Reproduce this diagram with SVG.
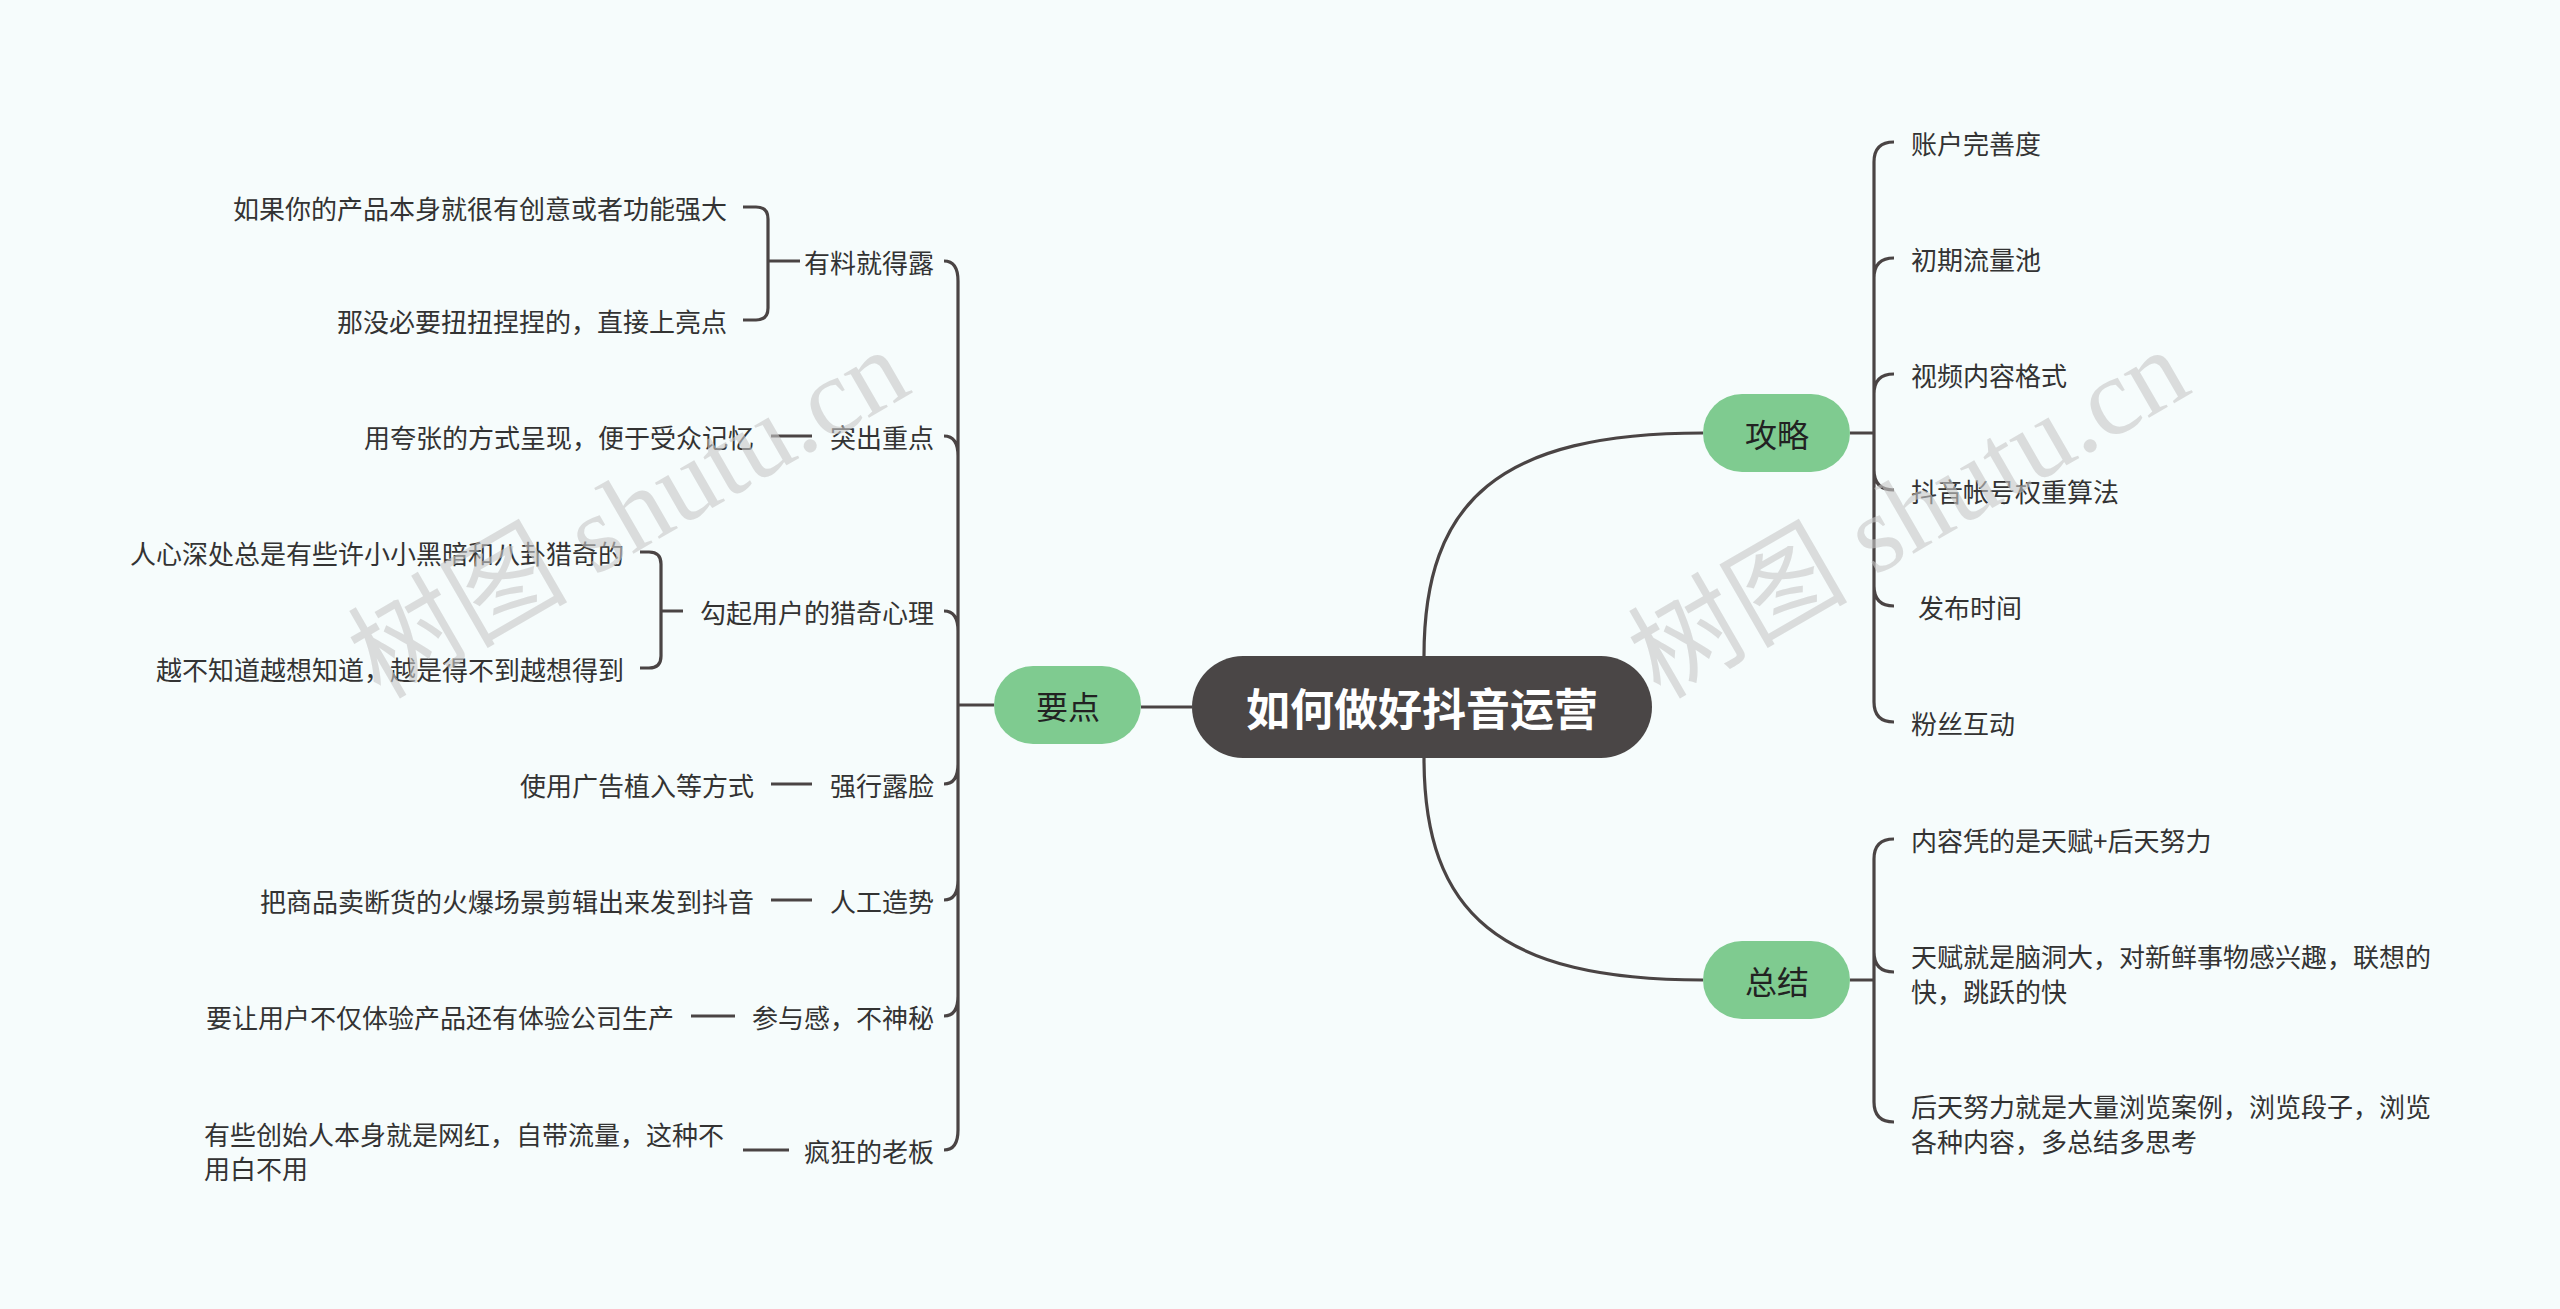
<svg xmlns="http://www.w3.org/2000/svg" width="2560" height="1309" viewBox="0 0 2560 1309">
<style>
.t{font-family:"Noto Sans CJK SC","Liberation Sans",sans-serif;font-size:26px;fill:#333;dominant-baseline:central}
.r{text-anchor:end}
.b{font-family:"Noto Sans CJK SC",sans-serif;font-size:32px;fill:#222;text-anchor:middle;dominant-baseline:central}
.l{fill:none;stroke:#4a4444;stroke-width:3.2}
.w{font-family:"Liberation Serif","Noto Sans CJK SC",serif;font-size:110px;fill:#c8c8c8;opacity:.6}
</style>
<rect width="2560" height="1309" fill="#f6fcfc"/>
<g id="connectors" class="l">
<path d="M1424 656 C1424 500 1500 433 1703 433"/>
<path d="M1424 758 C1424 914 1500 980 1703 980"/>
<path d="M1192 707 H1141"/>
<path d="M1850 433 H1874 V162 Q1874 142 1894 142 M1874 278 Q1874 258 1894 258 M1874 394 Q1874 374 1894 374 M1874 470 Q1874 490 1894 490 M1874 433 V702 Q1874 722 1894 722 M1874 586 Q1874 606 1894 606"/>
<path d="M1850 980 H1874 V859 Q1874 839 1894 839 M1874 952 Q1874 972 1894 972 M1874 980 V1102 Q1874 1122 1894 1122"/>
<path d="M994 705 H958 V281 Q958 261 944 261 M958 456 Q958 436 944 436 M958 631 Q958 611 944 611 M958 764 Q958 784 944 784 M958 880 Q958 900 944 900 M958 705 V1130 Q958 1150 944 1150 M958 996 Q958 1016 944 1016"/>
<path d="M800 261 H768 M743 207 H756 Q768 207 768 219 V308 Q768 320 756 320 H743"/>
<path d="M812 436 H771"/>
<path d="M683 611 H661 M640 552 H649 Q661 552 661 564 V656 Q661 668 649 668 H640"/>
<path d="M812 784 H771 M812 900 H771 M735 1016 H691 M789 1150 H743"/>
</g>
<g id="root"><rect x="1192" y="656" width="460" height="102" rx="51" fill="#4a4646"/><text x="1422" y="707" font-family="Noto Sans CJK SC,sans-serif" font-size="44" font-weight="bold" fill="#fff" text-anchor="middle" dominant-baseline="central">如何做好抖音运营</text></g>
<g id="gonglue"><rect x="1703" y="394" width="147" height="78" rx="39" fill="#7fcb90"/><text class="b" x="1777" y="433">攻略</text></g>
<g id="zongjie"><rect x="1703" y="941" width="147" height="78" rx="39" fill="#7fcb90"/><text class="b" x="1777" y="980">总结</text></g>
<g id="yaodian"><rect x="994" y="666" width="147" height="78" rx="39" fill="#7fcb90"/><text class="b" x="1068" y="705">要点</text></g>
<g id="g-right">
<text class="t" x="1911" y="142">账户完善度</text>
<text class="t" x="1911" y="258">初期流量池</text>
<text class="t" x="1911" y="374">视频内容格式</text>
<text class="t" x="1911" y="490">抖音帐号权重算法</text>
<text class="t" x="1918" y="606">发布时间</text>
<text class="t" x="1911" y="722">粉丝互动</text>
<text class="t" x="1911" y="839">内容凭的是天赋+后天努力</text>
<text class="t" x="1911" y="955">天赋就是脑洞大，对新鲜事物感兴趣，联想的</text>
<text class="t" x="1911" y="990">快，跳跃的快</text>
<text class="t" x="1911" y="1105">后天努力就是大量浏览案例，浏览段子，浏览</text>
<text class="t" x="1911" y="1140">各种内容，多总结多思考</text>
</g>
<g id="g-left">
<text class="t r" x="934" y="261">有料就得露</text>
<text class="t r" x="934" y="436">突出重点</text>
<text class="t r" x="934" y="611">勾起用户的猎奇心理</text>
<text class="t r" x="934" y="784">强行露脸</text>
<text class="t r" x="934" y="900">人工造势</text>
<text class="t r" x="934" y="1016">参与感，不神秘</text>
<text class="t r" x="934" y="1150">疯狂的老板</text>
<text class="t r" x="727" y="207">如果你的产品本身就很有创意或者功能强大</text>
<text class="t r" x="727" y="320">那没必要扭扭捏捏的，直接上亮点</text>
<text class="t r" x="754" y="436">用夸张的方式呈现，便于受众记忆</text>
<text class="t r" x="624" y="552">人心深处总是有些许小小黑暗和八卦猎奇的</text>
<text class="t r" x="624" y="668">越不知道越想知道，越是得不到越想得到</text>
<text class="t r" x="754" y="784">使用广告植入等方式</text>
<text class="t r" x="754" y="900">把商品卖断货的火爆场景剪辑出来发到抖音</text>
<text class="t r" x="674" y="1016">要让用户不仅体验产品还有体验公司生产</text>
<text class="t" x="204" y="1133">有些创始人本身就是网红，自带流量，这种不</text>
<text class="t" x="204" y="1167">用白不用</text>
</g>
<text class="w" transform="translate(380 700) rotate(-30)">树图 shutu.cn</text>
<text class="w" transform="translate(1660 700) rotate(-30)">树图 shutu.cn</text>
</svg>
